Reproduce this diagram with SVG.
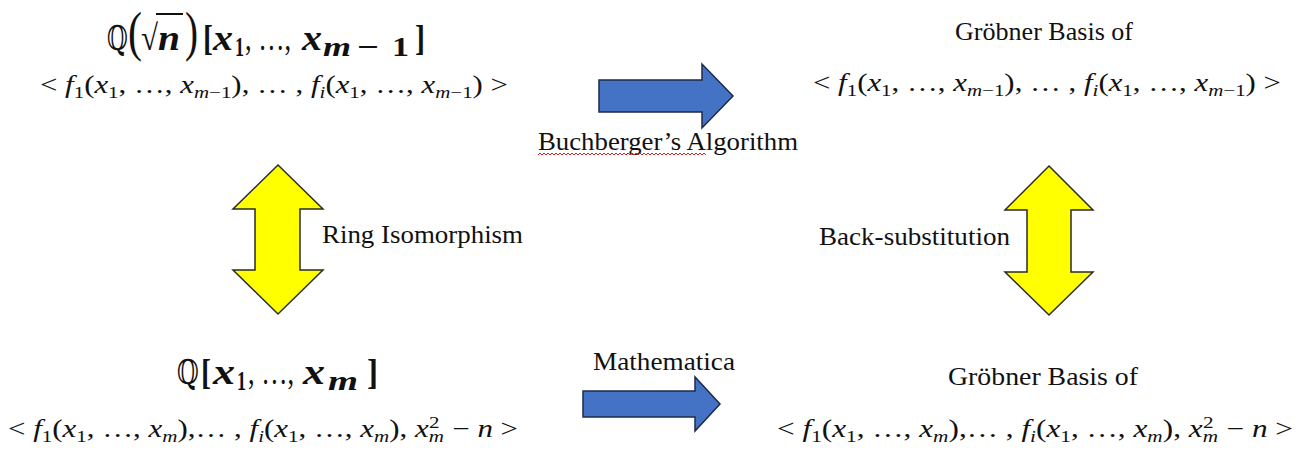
<svg xmlns="http://www.w3.org/2000/svg" width="1305" height="450" viewBox="0 0 1305 450">
<style>
.lbl{font-family:"Liberation Serif",serif;font-size:25px;fill:#111}
.m{font-family:"Liberation Serif","DejaVu Serif",serif;fill:#111}
.dq{font-family:"DejaVu Serif","DejaVu Sans",serif;font-size:34px;fill:#111}
.t{font-family:"Liberation Serif","DejaVu Serif",serif;font-size:36px;fill:#111}
.bp{font-size:54px}
.it{font-style:italic}
.b{font-weight:bold}
.sub{font-size:17px}
.bsub{font-size:27px}
.blue{fill:#4472C4;stroke:#1d2b4a;stroke-width:1.5;stroke-linejoin:miter}
.yel{fill:#FFFF00;stroke:#2a2a2a;stroke-width:1.5;stroke-linejoin:miter}
.wavy{fill:none;stroke:#e02020;stroke-width:1}
</style>
<rect width="1305" height="450" fill="#fff"/>

<g id="connectors">
  <g id="arrow-buchberger">
    <polygon class="blue" points="599,80 702,80 702,64 733,96 702,128 702,112 599,112"/>
    <text class="lbl" x="538" y="150" textLength="260" lengthAdjust="spacingAndGlyphs">Buchberger’s Algorithm</text>
    <path class="wavy" d="M538,155 l2,-2 l2,2 l2,-2 l2,2 l2,-2 l2,2 l2,-2 l2,2 l2,-2 l2,2 l2,-2 l2,2 l2,-2 l2,2 l2,-2 l2,2 l2,-2 l2,2 l2,-2 l2,2 l2,-2 l2,2 l2,-2 l2,2 l2,-2 l2,2 l2,-2 l2,2 l2,-2 l2,2 l2,-2 l2,2 l2,-2 l2,2 l2,-2 l2,2 l2,-2 l2,2 l2,-2 l2,2 l2,-2 l2,2 l2,-2 l2,2 l2,-2 l2,2 l2,-2 l2,2 l2,-2 l2,2 l2,-2 l2,2 l2,-2 l2,2 l2,-2 l2,2 l2,-2 l2,2 l2,-2 l2,2 l2,-2 l2,2 l2,-2 l2,2 l2,-2 l2,2 l2,-2 l2,2 l2,-2 l2,2 l2,-2 l2,2 l2,-2 l2,2 l2,-2 l2,2 l2,-2 l2,2 l2,-2 l2,2 l2,-2 l2,2 l2,-2 l2,2"/>
  </g>
  <g id="arrow-ring">
    <polygon class="yel" points="278,165 323,209 300,209 300,270 323,270 278,314 233,270 255,270 255,209 233,209"/>
    <text class="lbl" x="322" y="243" textLength="201" lengthAdjust="spacingAndGlyphs">Ring Isomorphism</text>
  </g>
  <g id="arrow-back">
    <polygon class="yel" points="1049,166 1093,210 1071,210 1071,272 1093,272 1049,315 1005,272 1027,272 1027,210 1005,210"/>
    <text class="lbl" x="819" y="245" textLength="191" lengthAdjust="spacingAndGlyphs">Back-substitution</text>
  </g>
  <g id="arrow-mathematica">
    <polygon class="blue" points="583,391 695,391 695,377 720,404 695,431 695,417 583,417"/>
    <text class="lbl" x="593" y="370" textLength="142" lengthAdjust="spacingAndGlyphs">Mathematica</text>
  </g>
</g>

<g id="node-top-left">
  <text class="dq" x="107" y="50" textLength="21" lengthAdjust="spacingAndGlyphs">ℚ</text>
  <text class="t bp" x="128" y="50" textLength="14" lengthAdjust="spacingAndGlyphs">(</text>
  <text class="t" x="141" y="50" textLength="17" lengthAdjust="spacingAndGlyphs">√</text>
  <line x1="156" y1="14" x2="183" y2="14" stroke="#111" stroke-width="2"/>
  <text class="t it b" x="158" y="50" textLength="22" lengthAdjust="spacingAndGlyphs">n</text>
  <text class="t bp" x="185" y="50" textLength="13" lengthAdjust="spacingAndGlyphs">)</text>
  <text class="t b" x="203" y="50" textLength="10" lengthAdjust="spacingAndGlyphs">[</text>
  <text class="t it b" x="213" y="50" textLength="20" lengthAdjust="spacingAndGlyphs">x</text>
  <text class="t b bsub" x="235" y="56" textLength="9" lengthAdjust="spacingAndGlyphs">1</text>
  <text class="t" x="245" y="50" textLength="46" lengthAdjust="spacingAndGlyphs">, …,</text>
  <text class="t it b" x="302" y="50" textLength="20" lengthAdjust="spacingAndGlyphs">x</text>
  <text class="t it b bsub" x="323" y="56" textLength="28" lengthAdjust="spacingAndGlyphs">m</text>
  <text class="t b bsub" x="357" y="56" textLength="22" lengthAdjust="spacingAndGlyphs">−</text>
  <text class="t b bsub" x="392" y="56" textLength="17" lengthAdjust="spacingAndGlyphs">1</text>
  <text class="t b" x="415" y="50" textLength="10" lengthAdjust="spacingAndGlyphs">]</text>
  <text class="m" font-size="25" x="40" y="93" textLength="468" lengthAdjust="spacingAndGlyphs">&lt; <tspan class="it">f</tspan><tspan class="sub" baseline-shift="-5">1</tspan>(<tspan class="it">x</tspan><tspan class="sub" baseline-shift="-5">1</tspan>, …, <tspan class="it">x</tspan><tspan class="sub" baseline-shift="-5"><tspan class="it">m</tspan>−1</tspan>), … , <tspan class="it">f</tspan><tspan class="sub it" baseline-shift="-5">i</tspan>(<tspan class="it">x</tspan><tspan class="sub" baseline-shift="-5">1</tspan>, …, <tspan class="it">x</tspan><tspan class="sub" baseline-shift="-5"><tspan class="it">m</tspan>−1</tspan>) &gt;</text>
</g>

<g id="node-top-right">
  <text class="lbl" x="955" y="40" textLength="178" lengthAdjust="spacingAndGlyphs">Gröbner Basis of</text>
  <text class="m" font-size="25" x="813" y="91" textLength="468" lengthAdjust="spacingAndGlyphs">&lt; <tspan class="it">f</tspan><tspan class="sub" baseline-shift="-5">1</tspan>(<tspan class="it">x</tspan><tspan class="sub" baseline-shift="-5">1</tspan>, …, <tspan class="it">x</tspan><tspan class="sub" baseline-shift="-5"><tspan class="it">m</tspan>−1</tspan>), … , <tspan class="it">f</tspan><tspan class="sub it" baseline-shift="-5">i</tspan>(<tspan class="it">x</tspan><tspan class="sub" baseline-shift="-5">1</tspan>, …, <tspan class="it">x</tspan><tspan class="sub" baseline-shift="-5"><tspan class="it">m</tspan>−1</tspan>) &gt;</text>
</g>

<g id="node-bottom-left">
  <text class="dq" x="177" y="384" textLength="22" lengthAdjust="spacingAndGlyphs">ℚ</text>
  <text class="t b" x="201" y="384" textLength="10" lengthAdjust="spacingAndGlyphs">[</text>
  <text class="t it b" x="213" y="384" textLength="22" lengthAdjust="spacingAndGlyphs">x</text>
  <text class="t b bsub" x="237" y="390" textLength="9" lengthAdjust="spacingAndGlyphs">1</text>
  <text class="t" x="248" y="384" textLength="46" lengthAdjust="spacingAndGlyphs">, …,</text>
  <text class="t it b" x="303" y="384" textLength="22" lengthAdjust="spacingAndGlyphs">x</text>
  <text class="t it b bsub" x="328" y="390" textLength="30" lengthAdjust="spacingAndGlyphs">m</text>
  <text class="t b" x="367" y="384" textLength="11" lengthAdjust="spacingAndGlyphs">]</text>
  <text class="m" font-size="25" x="8" y="437" textLength="510" lengthAdjust="spacingAndGlyphs">&lt; <tspan class="it">f</tspan><tspan class="sub" baseline-shift="-5">1</tspan>(<tspan class="it">x</tspan><tspan class="sub" baseline-shift="-5">1</tspan>, …, <tspan class="it">x</tspan><tspan class="sub it" baseline-shift="-5">m</tspan>),… , <tspan class="it">f</tspan><tspan class="sub it" baseline-shift="-5">i</tspan>(<tspan class="it">x</tspan><tspan class="sub" baseline-shift="-5">1</tspan>, …, <tspan class="it">x</tspan><tspan class="sub it" baseline-shift="-5">m</tspan>), <tspan class="it">x</tspan><tspan class="sub it" baseline-shift="-5">m</tspan><tspan class="sub" dx="-12" baseline-shift="9">2</tspan><tspan dx="4"> − </tspan><tspan class="it">n</tspan> &gt;</text>
</g>

<g id="node-bottom-right">
  <text class="lbl" x="948" y="385" textLength="190" lengthAdjust="spacingAndGlyphs">Gröbner Basis of</text>
  <text class="m" font-size="25" x="777" y="437" textLength="516" lengthAdjust="spacingAndGlyphs">&lt; <tspan class="it">f</tspan><tspan class="sub" baseline-shift="-5">1</tspan>(<tspan class="it">x</tspan><tspan class="sub" baseline-shift="-5">1</tspan>, …, <tspan class="it">x</tspan><tspan class="sub it" baseline-shift="-5">m</tspan>),… , <tspan class="it">f</tspan><tspan class="sub it" baseline-shift="-5">i</tspan>(<tspan class="it">x</tspan><tspan class="sub" baseline-shift="-5">1</tspan>, …, <tspan class="it">x</tspan><tspan class="sub it" baseline-shift="-5">m</tspan>),  <tspan class="it">x</tspan><tspan class="sub it" baseline-shift="-5">m</tspan><tspan class="sub" dx="-12" baseline-shift="9">2</tspan><tspan dx="4"> − </tspan><tspan class="it">n</tspan> &gt;</text>
</g>
</svg>
